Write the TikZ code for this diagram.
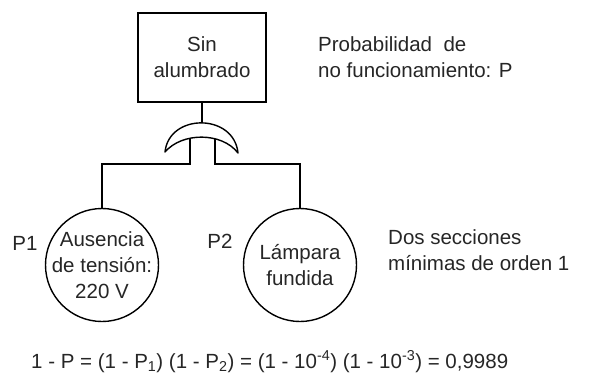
\documentclass[tikz,border=0pt]{standalone}
\usepackage{fontspec}
\setmainfont{Liberation Sans}
\begin{document}
\begin{tikzpicture}[x=1pt,y=-1pt,
  lbl/.style={font=\fontsize{20.5}{26}\selectfont, inner sep=0pt, text=black!85},
  boxnode/.style={draw, line width=1.4pt, minimum width=128pt, minimum height=89pt, inner sep=0pt, align=center, lbl},
  evt/.style={draw, circle, line width=1.4pt, minimum size=113pt, inner sep=0pt},
  conn/.style={line width=1.4pt},
]
\useasboundingbox (0,0) rectangle (592,376);

\node[boxnode] (top) at (202,57.5) {Sin\\alumbrado};

% OR gate
\coordinate (gtop) at (202,123);
\coordinate (gl) at (165,152);
\coordinate (gr) at (238,153);
\coordinate (in1) at (190,138.5);
\coordinate (in2) at (215,138.5);
\coordinate (h) at (0,164);
\draw[conn, line join=round] (gl) .. controls (169,113) and (234,113) .. (gr)
   .. controls (222,132) and (182,132) .. cycle;

\node[evt] (c1) at (102,265) {};
\node[evt] (c2) at (300,265) {};
\node[lbl, align=center] (t1) at (c1.center) {Ausencia\\de tensión:\\220 V};
\node[lbl, align=center] (t2) at (c2.center) {Lámpara\\fundida};

\draw[conn] (top.south) -- (gtop);
\draw[conn] (in1) -- (in1 |- h) -| (c1.north);
\draw[conn] (in2) -- (in2 |- h) -| (c2.north);

\node[lbl] (p1) at (25,243) {P1};
\node[lbl] (p2) at (220,241.5) {P2};

\node[lbl, align=left, anchor=west] (prob) at (318,57) {Probabilidad\ \ de\\no funcionamiento: P};
\node[lbl, align=left, anchor=west] (dos) at (388,250.5) {Dos secciones\\mínimas de orden 1};

\node[lbl, anchor=base west] (form) at (31,368) {1 - P = (1 - P\textsubscript{1}) (1 - P\textsubscript{2}) = (1 - 10\textsuperscript{-4}) (1 - 10\textsuperscript{-3}) = 0,9989};
\end{tikzpicture}
\end{document}
